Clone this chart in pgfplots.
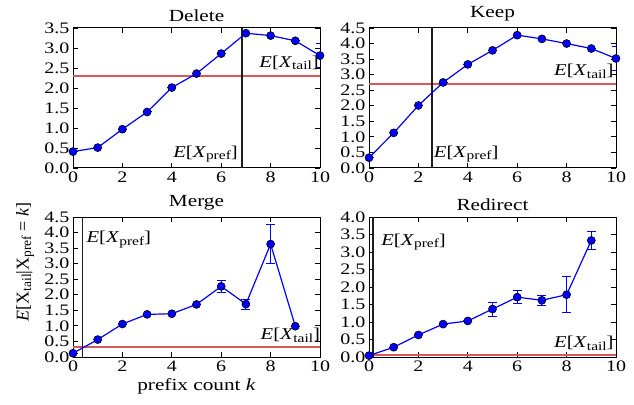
\documentclass[border=0pt]{standalone}
\usepackage{fontspec}
\setmainfont{Liberation Serif}[FakeStretch=1.25]
\newfontfamily\plainserif{Liberation Serif}
\usepackage{pgfplots}
\pgfplotsset{compat=1.18}

\definecolor{meanred}{RGB}{214,88,88}
\definecolor{prefline}{RGB}{30,30,30}

\newcommand{\tickfont}{\fontsize{16bp}{16bp}\selectfont}
\newcommand{\titlefont}{\fontsize{17bp}{17bp}\selectfont}
\newcommand{\annfont}{\fontsize{16.5bp}{16bp}\selectfont}
\newcommand{\sub}[1]{\raisebox{-0.3ex}{\fontsize{0.75em}{0.75em}\selectfont #1}}
\newcommand{\Ex}[1]{\textit{E}[\textit{X}\sub{#1}]}

\pgfplotsset{
  panel/.style={
    scale only axis, width=247bp, height=140bp,
    xmin=0, xmax=10, ymin=0,
    xtick={0,2,...,10},
    tick align=inside, tick pos=both,
    major tick length=5bp,
    every tick/.style={black, line width=0.8bp},
    axis line style={line width=1bp},
    ticklabel style={font=\tickfont},
    /pgf/number format/assume math mode=true,
    y tick label style={/pgf/number format/.cd, fixed, fixed zerofill, precision=1, /tikz/.cd},
    title style={font=\titlefont, yshift=-3bp},
    xlabel style={font=\fontsize{17bp}{17bp}\selectfont},
  },
  series/.style={blue, line width=1.2bp, mark=*, mark size=4bp,
    mark options={fill=blue, draw=black, line width=0.6bp},
    error bars/.cd, y dir=both, y explicit,
    error bar style={blue, line width=1bp},
    error mark options={rotate=90, mark size=4.5bp, blue, line width=1bp}},
  meanline/.style={color=meanred, line width=2bp, no marks},
  prefmark/.style={color=prefline, line width=1.6bp, no marks},
}

\begin{document}
\begin{tikzpicture}
\path[use as bounding box] (0,0) rectangle (634bp,405bp);

% Delete
\begin{axis}[panel, at={(73bp,237bp)}, anchor=south west, title={Delete},
  ymax=3.5, ytick={0,0.5,...,3.5}]
\addplot[meanline] coordinates {(0,2.31) (10,2.31)};
\addplot[prefmark] coordinates {(6.84,0) (6.84,3.5)};
\addplot[series] table[y error=e] {
x y e
0 0.41 0
1 0.51 0
2 0.97 0
3 1.40 0
4 2.01 0
5 2.36 0
6 2.86 0
7 3.37 0
8 3.31 0
9 3.18 0
10 2.81 0.3
};
\node[font=\annfont, anchor=base east, inner sep=1bp] at (axis cs:6.72,0.27) {\Ex{pref}};
\node[font=\annfont, anchor=base west, inner sep=1bp] at (axis cs:7.5,2.52) {\Ex{tail}};
\end{axis}

% Keep
\begin{axis}[panel, at={(369bp,237bp)}, anchor=south west, title={Keep},
  ymax=4.5, ytick={0,0.5,...,4.5}]
\addplot[meanline] coordinates {(0,2.71) (10,2.71)};
\addplot[prefmark] coordinates {(2.54,0) (2.54,4.5)};
\addplot[series] table[y error=e] {
x y e
0 0.33 0
1 1.13 0
2 2.01 0
3 2.75 0
4 3.33 0
5 3.78 0
6 4.27 0
7 4.15 0
8 4.00 0
9 3.84 0
10 3.52 0.4
};
\node[font=\annfont, anchor=base west, inner sep=1bp] at (axis cs:2.58,0.35) {\Ex{pref}};
\node[font=\annfont, anchor=base west, inner sep=1bp] at (axis cs:7.45,2.96) {\Ex{tail}};
\end{axis}

% Merge
\begin{axis}[panel, at={(73bp,48bp)}, anchor=south west, title={Merge},
  ymax=4.5, ytick={0,0.5,...,4.5},
  xlabel={prefix count \textit{k}}]
\addplot[meanline] coordinates {(0,0.32) (10,0.32)};
\addplot[prefmark] coordinates {(0.39,0) (0.39,4.5)};
\addplot[series] table[y error=e] {
x y e
0 0.12 0
1 0.56 0
2 1.06 0
3 1.37 0
4 1.39 0
5 1.69 0
6 2.27 0.19
7 1.70 0.16
8 3.63 0.63
9 0.99 0
};
\node[font=\annfont, anchor=base west, inner sep=1bp] at (axis cs:0.5,3.67) {\Ex{pref}};
\node[font=\annfont, anchor=base west, inner sep=1bp] at (axis cs:7.55,0.55) {\Ex{tail}};
\end{axis}

% Redirect
\begin{axis}[panel, at={(369bp,48bp)}, anchor=south west, title={Redirect},
  ymax=4.0, ytick={0,0.5,...,4.0}]
\addplot[meanline] coordinates {(0,0.05) (10,0.05)};
\addplot[prefmark] coordinates {(0.17,0) (0.17,4.0)};
\addplot[series] table[y error=e] {
x y e
0 0.04 0
1 0.28 0
2 0.63 0
3 0.94 0
4 1.03 0
5 1.37 0.20
6 1.71 0.19
7 1.62 0.14
8 1.78 0.51
9 3.33 0.27
};
\node[font=\annfont, anchor=base west, inner sep=1bp] at (axis cs:0.45,3.2) {\Ex{pref}};
\node[font=\annfont, anchor=base west, inner sep=1bp] at (axis cs:7.45,0.26) {\Ex{tail}};
\end{axis}

% y label of the lower left panel
\node[rotate=90, anchor=center, font=\plainserif\fontsize{18bp}{18bp}\selectfont]
  at (25bp,143bp) {\textit{E}[X\sub{tail}|X\sub{pref} = \textit{k}]};
\end{tikzpicture}
\end{document}
